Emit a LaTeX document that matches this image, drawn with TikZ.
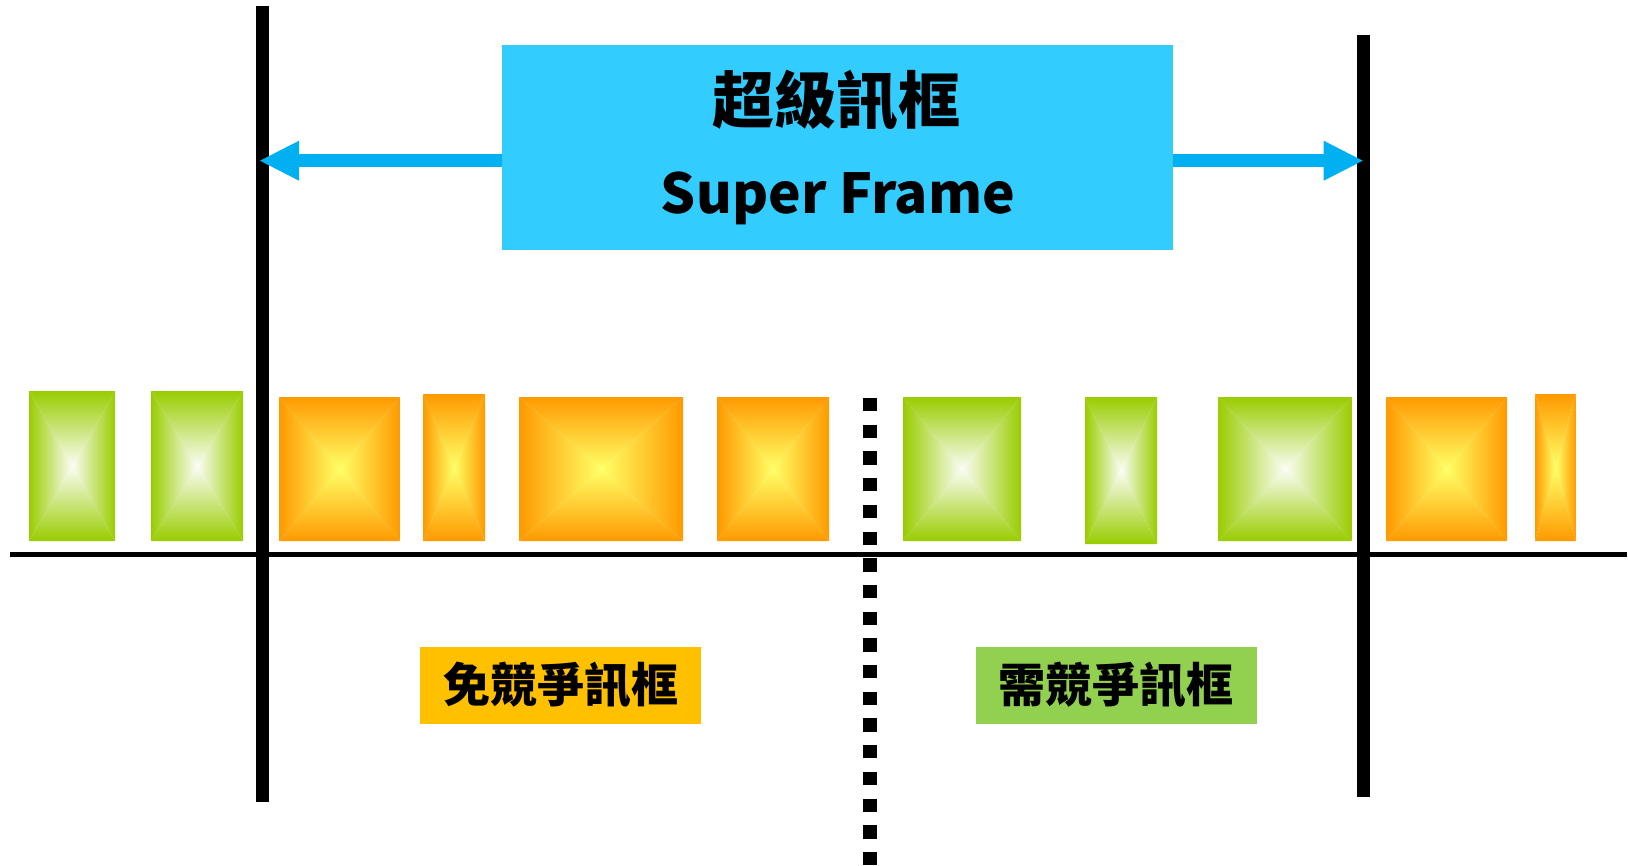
\documentclass[tikz,border=0pt]{standalone}
\usepackage{fontspec}
\newfontfamily\cjk{Noto Sans CJK TC}
\usetikzlibrary{arrows.meta}
\definecolor{gedge}{HTML}{99CC00}
\definecolor{gcent}{HTML}{FAFDF5}
\definecolor{oedge}{HTML}{FF9900}
\definecolor{ocent}{HTML}{FFFF66}
\definecolor{sfblue}{HTML}{33CCFF}
\definecolor{arrblue}{HTML}{00B0F0}
\definecolor{lblorange}{HTML}{FFC000}
\definecolor{lblgreen}{HTML}{92D050}
\newcommand\pyrbox[6]{%
  \begin{scope}
    \clip (#1,#2) -- (#3,#2) -- ({(#1+#3)/2},{(#2+#4)/2}) -- cycle;
    \shade[top color=#5,bottom color=#6] (#1,#2) rectangle (#3,{(#2+#4)/2});
  \end{scope}
  \begin{scope}
    \clip (#1,#4) -- (#3,#4) -- ({(#1+#3)/2},{(#2+#4)/2}) -- cycle;
    \shade[top color=#6,bottom color=#5] (#1,{(#2+#4)/2}) rectangle (#3,#4);
  \end{scope}
  \begin{scope}
    \clip (#1,#2) -- (#1,#4) -- ({(#1+#3)/2},{(#2+#4)/2}) -- cycle;
    \shade[left color=#5,right color=#6] (#1,#2) rectangle ({(#1+#3)/2},#4);
  \end{scope}
  \begin{scope}
    \clip (#3,#2) -- (#3,#4) -- ({(#1+#3)/2},{(#2+#4)/2}) -- cycle;
    \shade[left color=#6,right color=#5] ({(#1+#3)/2},#2) rectangle (#3,#4);
  \end{scope}%
}
\tikzset{
  bar/.style={line width=13pt},
  arr/.style={arrblue,line width=13.3pt,-{Triangle[length=39pt,width=40pt,line width=0pt]}},
  label/.style={inner sep=0pt,minimum width=281pt,minimum height=77pt,
    font=\cjk\bfseries\fontsize{47}{50}\selectfont},
}
\begin{document}
\begin{tikzpicture}[x=1pt,y=-1pt]
\fill[white] (0,0) rectangle (1628,865);
\useasboundingbox (0,0) rectangle (1628,865);
% frames
\pyrbox{29}{391}{115}{541}{gedge}{gcent}
\pyrbox{151}{391}{243}{541}{gedge}{gcent}
\pyrbox{279}{397}{400}{541}{oedge}{ocent}
\pyrbox{423}{394}{485}{541}{oedge}{ocent}
\pyrbox{519}{397}{683}{541}{oedge}{ocent}
\pyrbox{717}{397}{829}{541}{oedge}{ocent}
\pyrbox{903}{397}{1021}{541}{gedge}{gcent}
\pyrbox{1085}{397}{1157}{544}{gedge}{gcent}
\pyrbox{1218}{397}{1352}{541}{gedge}{gcent}
\pyrbox{1386}{397}{1507}{541}{oedge}{ocent}
\pyrbox{1535}{394}{1576}{541}{oedge}{ocent}
% time axis
\draw[line width=5pt] (10,554.5) -- (1627,554.5);
% boundaries
\draw[bar] (262.5,6) -- (262.5,802);
\draw[bar] (1363.5,35) -- (1363.5,797);
\draw[line width=13.5pt,dash pattern=on 13.3pt off 13.4pt] (870,398) -- (870,865);
% super frame box
\node[fill=sfblue,minimum width=671pt,minimum height=205pt,inner sep=0pt] (sf) at (837.5,147.5) {};
\node[anchor=base,inner sep=0pt,font=\cjk\bfseries\fontsize{62}{66}\selectfont] (t1) at (836,123) {超級訊框};
\node[anchor=base,inner sep=0pt,font=\cjk\bfseries\fontsize{55}{60}\selectfont] (t2) at (838,213) {Super Frame};
\coordinate (lt) at (260,160.7);
\coordinate (rt) at (1362.7,160.7);
\draw[arr] (sf.west |- lt) -- (lt);
\draw[arr] (sf.east |- rt) -- (rt);
% labels
\node[label,fill=lblorange] (cf) at (560.5,685.5) {免競爭訊框};
\node[label,fill=lblgreen] (cp) at (1116,685.5) {需競爭訊框};
\end{tikzpicture}
\end{document}
